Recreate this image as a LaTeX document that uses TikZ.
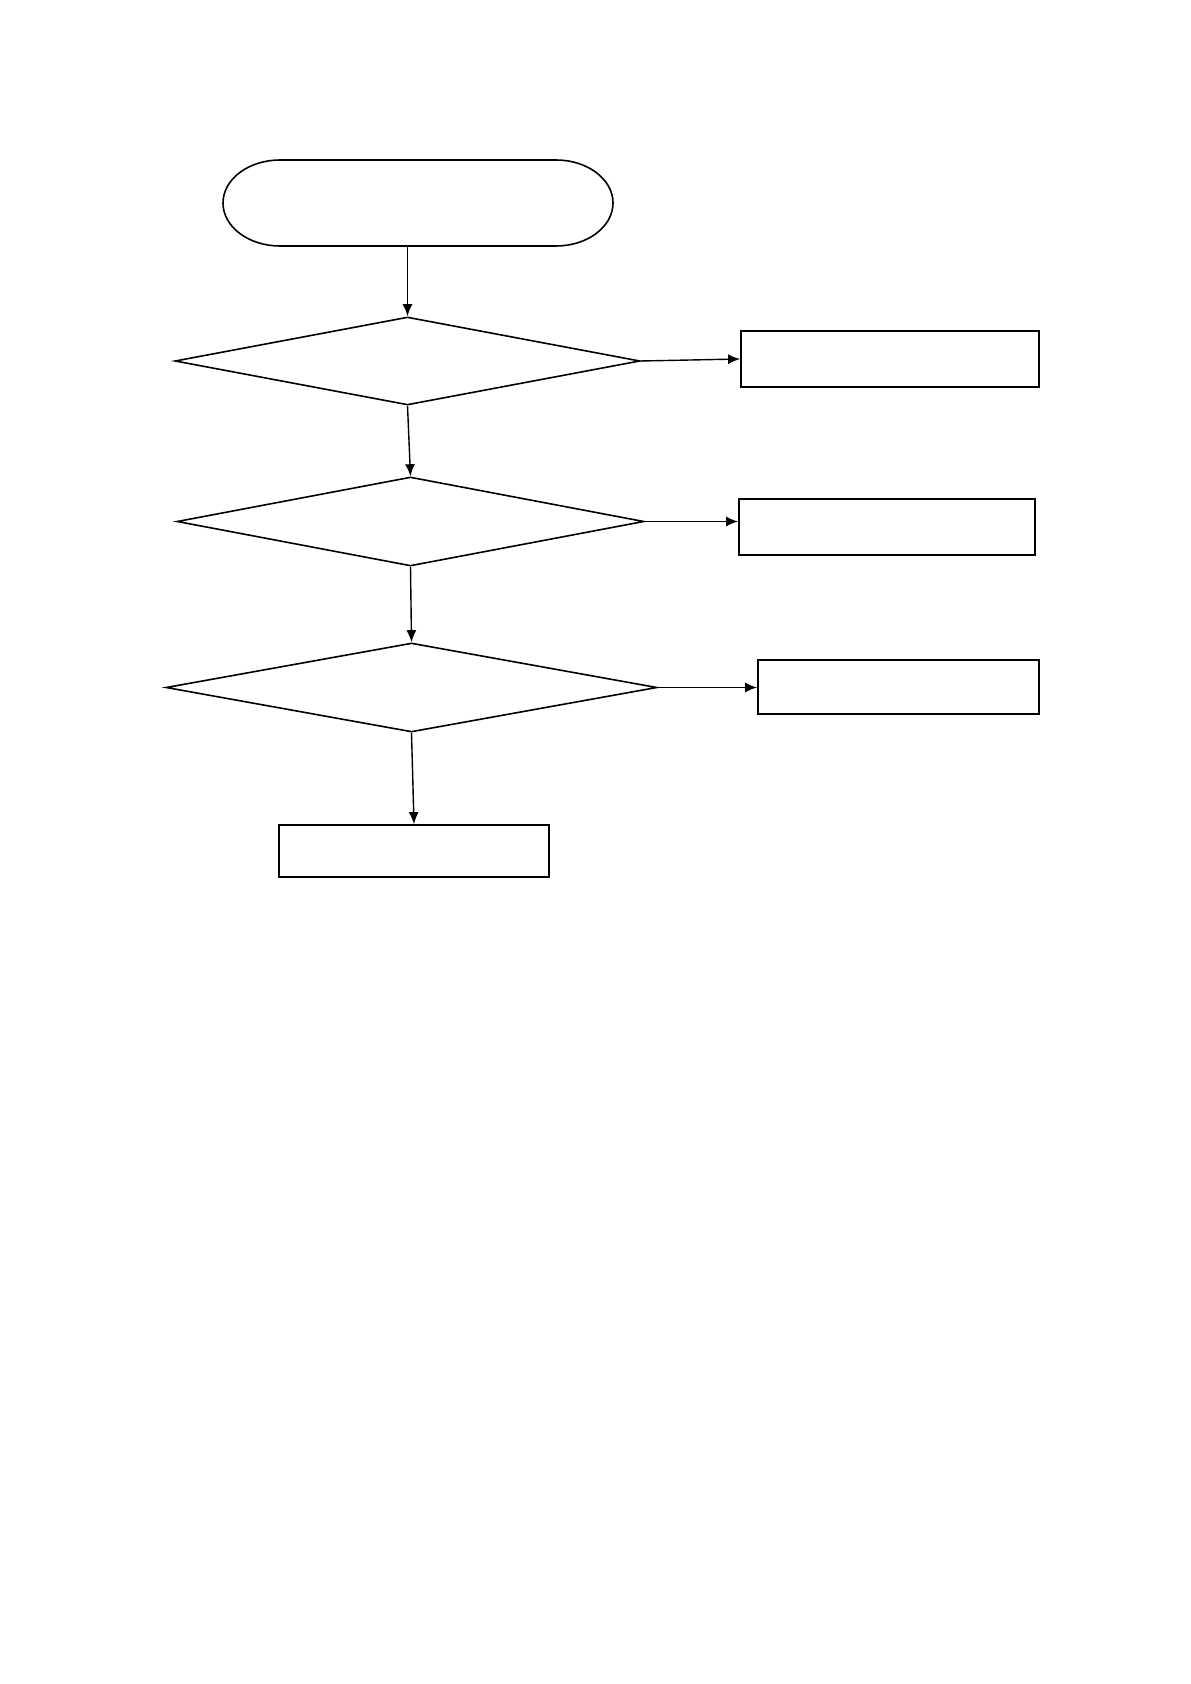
\documentclass[tikz,border=0pt]{standalone}
\usepackage{tikz}
\usetikzlibrary{arrows.meta,positioning,shapes.geometric}

\begin{document}
\begin{tikzpicture}[
    x=0.5pt, y=-0.5pt,
    decision/.style={diamond, draw=black, line width=0.8pt, inner sep=0pt},
    box/.style={rectangle, draw=black, line width=0.9pt, inner sep=0pt},
    arrow/.style={-{Latex[length=6pt,width=5pt]}, line width=0.7pt, draw=black}
  ]
    \useasboundingbox (0,0) rectangle (1190,1684);
    % start terminal (outline drawn below)
    \node[inner sep=0pt, outer sep=0pt, minimum width=195pt, minimum height=43pt] (start) at (418,203) {};
    \draw[line width=0.8pt, line join=round] (start.north) -- ([xshift=-28.5pt]start.north east)
        arc[start angle=90, end angle=-90, x radius=28.5pt, y radius=21.5pt]
        -- ([xshift=28.5pt]start.south west)
        arc[start angle=270, end angle=90, x radius=28.5pt, y radius=21.5pt] -- cycle;
    \node[decision, minimum width=232.5pt, minimum height=44pt] (check1) at (407.5,361) {};
    \node[decision, minimum width=233.5pt, minimum height=44.5pt] (check2) at (410.5,521.5) {};
    \node[decision, minimum width=245.5pt, minimum height=44.5pt] (check3) at (411.5,687.5) {};
    \node[box, minimum width=149pt, minimum height=28pt] (out1) at (890,359) {};
    \node[box, minimum width=148pt, minimum height=28pt] (out2) at (887,527) {};
    \node[box, minimum width=140.5pt, minimum height=27pt] (out3) at (898.5,687) {};
    \node[box, minimum width=135pt, minimum height=26pt] (final) at (414,851) {};
    \draw[arrow] (start.south -| check1.north) -- (check1.north);
    \draw[arrow] (check1.south) -- (check2.north);
    \draw[arrow] (check2.south) -- (check3.north);
    \draw[arrow] (check3.south) -- (final.north);
    \draw[arrow] (check1.east) -- (out1.west);
    \draw[arrow] (check2.east) -- (out2.west |- check2.east);
    \draw[arrow] (check3.east) -- (out3.west |- check3.east);
\end{tikzpicture}
\end{document}
